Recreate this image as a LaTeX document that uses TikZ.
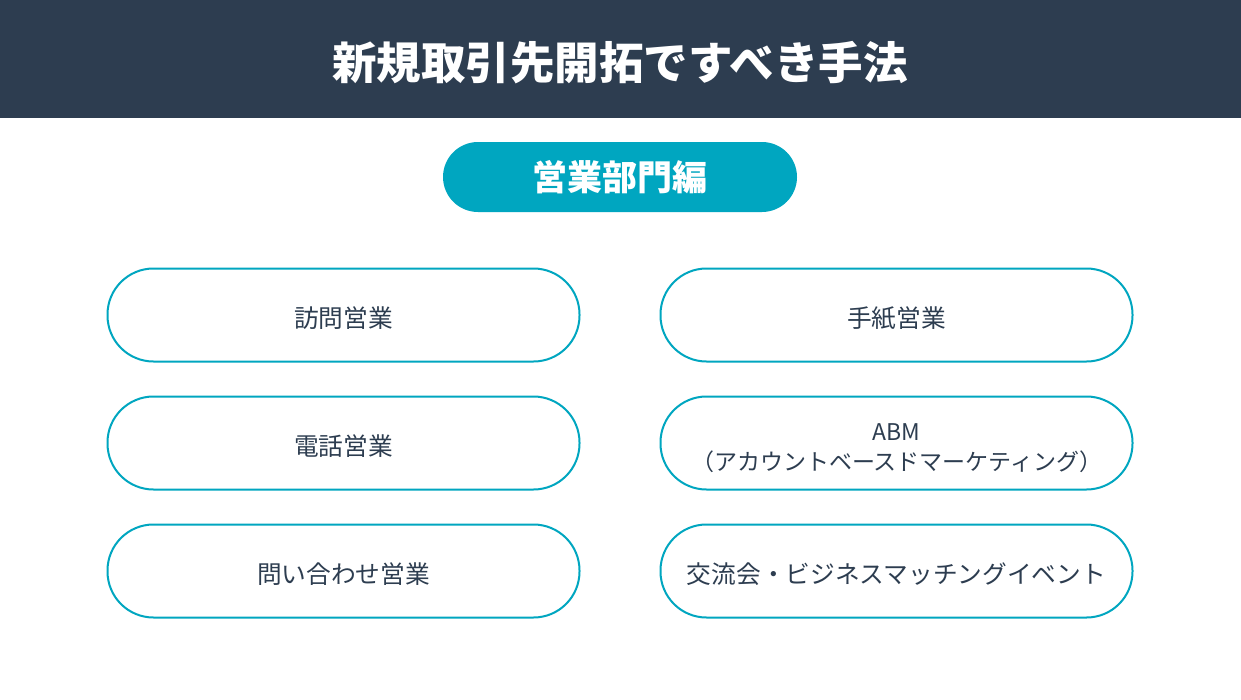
\documentclass[tikz,border=0pt]{standalone}
\usepackage{fontspec}
\setmainfont{Noto Sans CJK JP}
\definecolor{navy}{HTML}{2D3D50}
\definecolor{teal}{HTML}{00A6C0}
\begin{document}
\begin{tikzpicture}[x=1pt,y=-1pt,
  box/.style={draw=teal,line width=2pt,fill=white,rounded corners=46pt,minimum width=472pt,minimum height=93pt,inner sep=0pt,text=navy,font=\fontsize{24.7}{30}\selectfont,align=center,text height=27.5pt,text depth=3pt},
]
\useasboundingbox (0,0) rectangle (1241,699);
\fill[white] (0,0) rectangle (1241,699);
\fill[navy] (0,0) rectangle (1241,118);
\node[text=white,font=\fontsize{44.5}{50}\selectfont\bfseries,inner sep=0pt] (title) at (620,63) {新規取引先開拓ですべき手法};
\node[fill=teal,rounded corners=35pt,minimum width=354pt,minimum height=70pt,inner sep=0pt,text=white,font=\fontsize{35}{40}\selectfont\bfseries] (dept) at (620,177) {営業部門編};
\node[box] (b1) at (343.5,315) {訪問営業};
\node[box] (b2) at (896.5,315) {手紙営業};
\node[box] (b3) at (343.5,443) {電話営業};
\node[box] (b4) at (896.5,443) {};
\node[text=navy,font=\fontsize{23}{30}\selectfont,align=center,inner sep=0pt] (b4t) at ([yshift=-5pt]b4.center) {ABM\\（アカウントベースドマーケティング）};
\node[box] (b5) at (343.5,571) {問い合わせ営業};
\node[box] (b6) at (896.5,571) {交流会・ビジネスマッチングイベント};
\end{tikzpicture}
\end{document}
